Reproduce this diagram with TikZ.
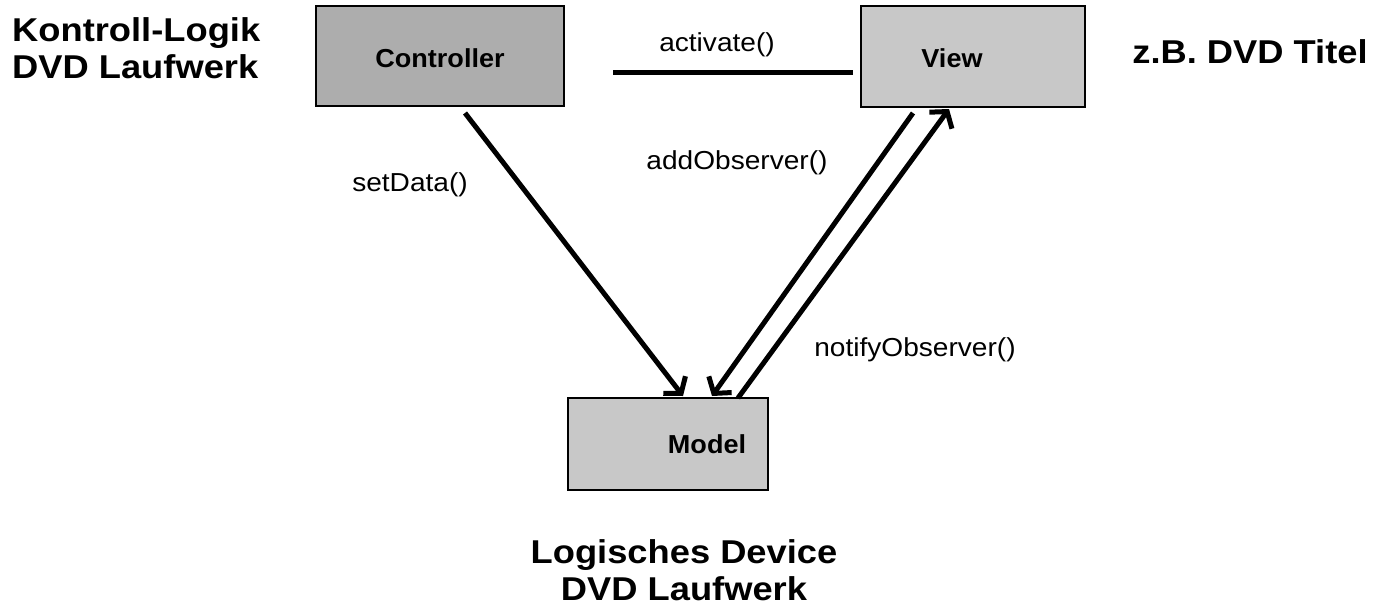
\documentclass[tikz,border=0pt]{standalone}
\usepackage{fontspec}
\setmainfont{Liberation Sans}
\usetikzlibrary{arrows.meta}
\definecolor{boxdark}{HTML}{ADADAD}
\definecolor{boxlight}{HTML}{C8C8C8}
\tikzset{
  box/.style={draw=black, line width=1.5pt, inner sep=0pt},
  boxlabel/.style={font=\fontsize{26}{30}\selectfont\bfseries},
  biglabel/.style={font=\fontsize{33}{36.5}\selectfont\bfseries, inner sep=0pt},
  msglabel/.style={font=\fontsize{26}{30}\selectfont, inner sep=0pt},
  arr/.style={line width=5pt, -{Straight Barb[length=11pt,width=28pt,line width=5pt]}},
}
\newcommand{\wx}[2]{\scalebox{#1}[1]{#2}}
\begin{document}
\begin{tikzpicture}[x=1pt,y=-1pt]
\useasboundingbox (0,0) rectangle (1388,610);
% boxes
\node[box, fill=boxdark, minimum width=248pt, minimum height=100pt] (ctrl) at (440,56) {};
\node[boxlabel] (ctrllbl) at (440,58) {\wx{1.04}{Controller}};
\node[box, fill=boxlight, minimum width=224pt, minimum height=101pt] (view) at (973,56.5) {};
\node[boxlabel] (viewlbl) at (952,58) {\wx{1.04}{View}};
\node[box, fill=boxlight, minimum width=200pt, minimum height=92pt] (model) at (668,444) {};
\node[boxlabel] (modellbl) at (707,444) {\wx{1.04}{Model}};
% connectors
\coordinate (a1) at (613,72);
\coordinate (a2) at (853,72);
\draw[line width=5pt] (a1) -- (a2);
\coordinate (c1) at (465,113);
\coordinate (m1) at (683,396);
\draw[arr] (c1) -- (m1);
\coordinate (v1) at (913,113);
\coordinate (m2) at (712,396);
\draw[arr] (v1) -- (m2);
\coordinate (m3) at (738,398);
\coordinate (v2) at (949,109);
\draw[arr] (m3) -- (v2);
% message labels
\node[msglabel] (lact) at (717,45) {\wx{1.08}{activate()}};
\node[msglabel] (lset) at (410,185) {\wx{1.08}{setData()}};
\node[msglabel] (ladd) at (737,163) {\wx{1.08}{addObserver()}};
\node[msglabel] (lnot) at (915,350) {\wx{1.08}{notifyObserver()}};
% big labels
\node[biglabel, anchor=west, align=left] (kl) at (12,48) {\wx{1.1}{Kontroll-Logik}\\\wx{1.1}{DVD Laufwerk}};
\node[biglabel] (zb) at (1250,52) {\wx{1.1}{z.B. DVD Titel}};
\node[biglabel, align=center] (ld) at (684,570) {\wx{1.1}{Logisches Device}\\\wx{1.1}{DVD Laufwerk}};
\end{tikzpicture}
\end{document}
